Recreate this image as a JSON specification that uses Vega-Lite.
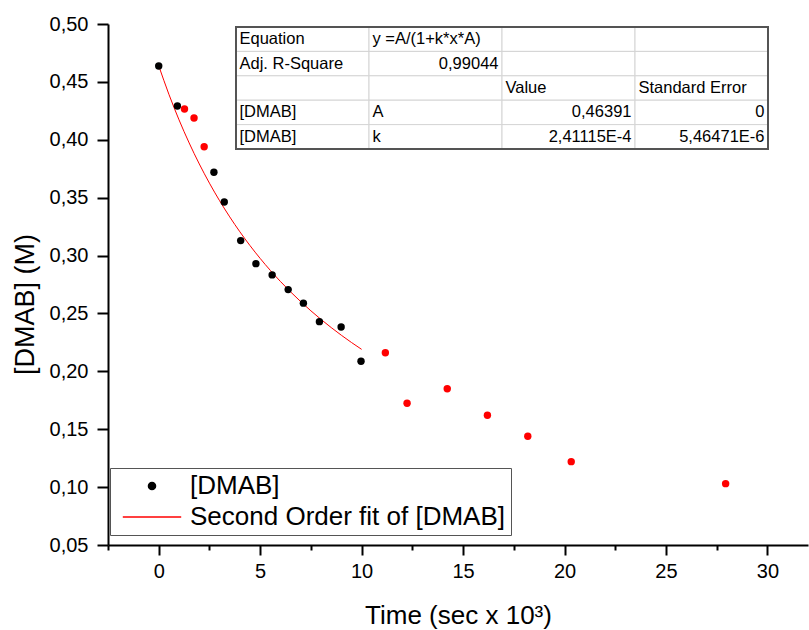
{
  "$schema": "https://vega.github.io/schema/vega-lite/v6.json",
  "width": 700,
  "height": 521,
  "autosize": {"type": "none"},
  "padding": {"left": 108, "top": 24, "right": 1, "bottom": 85},
  "background": "white",
  "config": {"view": {"stroke": null}, "font": "Liberation Sans"},
  "datasets": {
    "obs": [
      {"t": 0, "c": 0.4637, "series": "[DMAB]"},
      {"t": 0.92, "c": 0.4292, "series": "[DMAB]"},
      {"t": 2.72, "c": 0.372, "series": "[DMAB]"},
      {"t": 3.23, "c": 0.3463, "series": "[DMAB]"},
      {"t": 4.04, "c": 0.3129, "series": "[DMAB]"},
      {"t": 4.79, "c": 0.293, "series": "[DMAB]"},
      {"t": 5.59, "c": 0.2833, "series": "[DMAB]"},
      {"t": 6.38, "c": 0.2706, "series": "[DMAB]"},
      {"t": 7.13, "c": 0.2589, "series": "[DMAB]"},
      {"t": 7.92, "c": 0.2429, "series": "[DMAB]"},
      {"t": 8.99, "c": 0.2383, "series": "[DMAB]"},
      {"t": 9.97, "c": 0.2087, "series": "[DMAB]"},
      {"t": 1.27, "c": 0.4266, "series": "[DMAB] (masked)"},
      {"t": 1.74, "c": 0.4188, "series": "[DMAB] (masked)"},
      {"t": 2.24, "c": 0.394, "series": "[DMAB] (masked)"},
      {"t": 11.17, "c": 0.216, "series": "[DMAB] (masked)"},
      {"t": 12.24, "c": 0.1725, "series": "[DMAB] (masked)"},
      {"t": 14.22, "c": 0.185, "series": "[DMAB] (masked)"},
      {"t": 16.2, "c": 0.162, "series": "[DMAB] (masked)"},
      {"t": 18.19, "c": 0.144, "series": "[DMAB] (masked)"},
      {"t": 20.33, "c": 0.122, "series": "[DMAB] (masked)"},
      {"t": 27.94, "c": 0.103, "series": "[DMAB] (masked)"}
    ],
    "fit": [
      {"t": 0, "c": 0.46391, "series": "Second Order fit of [DMAB]"},
      {"t": 0.5, "c": 0.43934, "series": "Second Order fit of [DMAB]"},
      {"t": 1, "c": 0.41724, "series": "Second Order fit of [DMAB]"},
      {"t": 1.5, "c": 0.39726, "series": "Second Order fit of [DMAB]"},
      {"t": 2, "c": 0.3791, "series": "Second Order fit of [DMAB]"},
      {"t": 2.5, "c": 0.36253, "series": "Second Order fit of [DMAB]"},
      {"t": 3, "c": 0.34735, "series": "Second Order fit of [DMAB]"},
      {"t": 3.5, "c": 0.33339, "series": "Second Order fit of [DMAB]"},
      {"t": 4, "c": 0.32051, "series": "Second Order fit of [DMAB]"},
      {"t": 4.5, "c": 0.30858, "series": "Second Order fit of [DMAB]"},
      {"t": 5, "c": 0.29752, "series": "Second Order fit of [DMAB]"},
      {"t": 5.5, "c": 0.28721, "series": "Second Order fit of [DMAB]"},
      {"t": 6, "c": 0.2776, "series": "Second Order fit of [DMAB]"},
      {"t": 6.5, "c": 0.26861, "series": "Second Order fit of [DMAB]"},
      {"t": 7, "c": 0.26019, "series": "Second Order fit of [DMAB]"},
      {"t": 7.5, "c": 0.25227, "series": "Second Order fit of [DMAB]"},
      {"t": 8, "c": 0.24483, "series": "Second Order fit of [DMAB]"},
      {"t": 8.5, "c": 0.23781, "series": "Second Order fit of [DMAB]"},
      {"t": 9, "c": 0.23118, "series": "Second Order fit of [DMAB]"},
      {"t": 9.5, "c": 0.22491, "series": "Second Order fit of [DMAB]"},
      {"t": 10, "c": 0.21898, "series": "Second Order fit of [DMAB]"}
    ],
    "table": [
      {"row": 0, "col": 0, "text": "Equation", "kind": "label"},
      {"row": 0, "col": 1, "text": "y =A/(1+k*x*A)", "kind": "label"},
      {"row": 0, "col": 2, "text": "", "kind": "label"},
      {"row": 0, "col": 3, "text": "", "kind": "label"},
      {"row": 1, "col": 0, "text": "Adj. R-Square", "kind": "label"},
      {"row": 1, "col": 1, "text": "0,99044", "kind": "value"},
      {"row": 1, "col": 2, "text": "", "kind": "label"},
      {"row": 1, "col": 3, "text": "", "kind": "label"},
      {"row": 2, "col": 0, "text": "", "kind": "label"},
      {"row": 2, "col": 1, "text": "", "kind": "label"},
      {"row": 2, "col": 2, "text": "Value", "kind": "label"},
      {"row": 2, "col": 3, "text": "Standard Error", "kind": "label"},
      {"row": 3, "col": 0, "text": "[DMAB]", "kind": "label"},
      {"row": 3, "col": 1, "text": "A", "kind": "label"},
      {"row": 3, "col": 2, "text": "0,46391", "kind": "value"},
      {"row": 3, "col": 3, "text": "0", "kind": "value"},
      {"row": 4, "col": 0, "text": "[DMAB]", "kind": "label"},
      {"row": 4, "col": 1, "text": "k", "kind": "label"},
      {"row": 4, "col": 2, "text": "2,41115E-4", "kind": "value"},
      {"row": 4, "col": 3, "text": "5,46471E-6", "kind": "value"}
    ]
  },
  "resolve": {"scale": {"x": "independent", "y": "independent"}},
  "layer": [
    {
      "layer": [
        {
          "data": {"name": "fit"},
          "mark": {"type": "line", "strokeWidth": 1, "interpolate": "monotone"},
          "encoding": {
            "x": {"field": "t", "type": "quantitative"},
            "y": {"field": "c", "type": "quantitative"},
            "color": {"field": "series", "type": "nominal"}
          }
        },
        {
          "data": {"name": "obs"},
          "mark": {"type": "point", "filled": true, "opacity": 1, "size": 55},
          "encoding": {
            "x": {
              "field": "t",
              "type": "quantitative",
              "scale": {"domain": [-2.5, 32], "nice": false, "zero": false},
              "axis": {
                "title": "Time (sec x 10³)",
                "titleFont": "Liberation Sans",
                "titleFontSize": 26,
                "titleFontWeight": "normal",
                "titleColor": "black",
                "titlePadding": 21,
                "values": [-2.5, 0, 2.5, 5, 7.5, 10, 12.5, 15, 17.5, 20, 22.5, 25, 27.5, 30],
                "labelExpr": "datum.value % 5 === 0 ? datum.value : ''",
                "labelFont": "Liberation Sans",
                "labelFontSize": 20,
                "labelColor": "black",
                "labelPadding": 6,
                "labelFlush": false,
                "labelOverlap": false,
                "domainColor": "black",
                "domainWidth": 2,
                "tickColor": "black",
                "tickWidth": 2,
                "tickSize": {"condition": {"test": "datum.value % 5 === 0", "value": 10}, "value": 5},
                "grid": false
              }
            },
            "y": {
              "field": "c",
              "type": "quantitative",
              "scale": {"domain": [0.05, 0.5], "nice": false, "zero": false},
              "axis": {
                "title": "[DMAB] (M)",
                "titleFont": "Liberation Sans",
                "titleFontSize": 27,
                "titleFontWeight": "normal",
                "titleColor": "black",
                "titlePadding": 10,
                "titleY": 280,
                "values": [0.05, 0.075, 0.1, 0.125, 0.15, 0.175, 0.2, 0.225, 0.25, 0.275, 0.3, 0.325, 0.35, 0.375, 0.4, 0.425, 0.45, 0.475, 0.5],
                "labelExpr": "abs(datum.value * 20 - round(datum.value * 20)) < 0.001 ? replace(format(datum.value, '.2f'), '.', ',') : ''",
                "labelFont": "Liberation Sans",
                "labelFontSize": 20,
                "labelColor": "black",
                "labelPadding": 9,
                "labelFlush": false,
                "labelOverlap": false,
                "domainColor": "black",
                "domainWidth": 2,
                "tickColor": "black",
                "tickWidth": 2,
                "tickSize": {"condition": {"test": "abs(datum.value * 20 - round(datum.value * 20)) < 0.001", "value": 11}, "value": 5},
                "grid": false
              }
            },
            "color": {
              "field": "series",
              "type": "nominal",
              "scale": {"domain": ["[DMAB]", "Second Order fit of [DMAB]", "[DMAB] (masked)"], "range": ["black", "red", "red"]},
              "legend": {
                "orient": "none",
                "legendX": 2,
                "legendY": 444,
                "title": null,
                "values": ["[DMAB]", "Second Order fit of [DMAB]"],
                "labelFont": "Liberation Sans",
                "labelFontSize": 26,
                "labelColor": "black",
                "labelLimit": 500,
                "strokeColor": "#555555",
                "fillColor": "white",
                "padding": 5,
                "rowPadding": 5,
                "symbolSize": 64,
                "symbolType": "circle",
                "symbolOffset": 24,
                "labelOffset": 25,
                "encoding": {
                  "symbols": {
                    "shape": {"value": {"expr": "datum.value === '[DMAB]' ? 'circle' : 'M-7.3,0L7.3,0'"}},
                    "size": {"value": {"expr": "datum.value === '[DMAB]' ? 50 : 64"}},
                    "fill": {"value": {"expr": "datum.value === '[DMAB]' ? 'black' : 'transparent'"}},
                    "stroke": {"value": {"expr": "datum.value === '[DMAB]' ? 'transparent' : '#ff6060'"}},
                    "strokeWidth": {"value": 1.5},
                    "opacity": {"value": 1}
                  }
                }
              }
            }
          }
        }
      ]
    },
    {
      "data": {"name": "table"},
      "layer": [
        {
          "mark": {"type": "rect", "fill": "white", "stroke": "#d4d4d4", "strokeWidth": 1, "xOffset": -66.5, "x2Offset": 66.5, "yOffset": -12.2, "y2Offset": 12.2},
          "encoding": {
            "x": {"field": "col", "type": "quantitative", "scale": {"domain": [-0.5, 3.5], "range": [128, 660]}, "axis": null},
            "x2": {"field": "col"},
            "y": {"field": "row", "type": "quantitative", "scale": {"domain": [-0.5, 4.5], "range": [3, 125]}, "axis": null},
            "y2": {"field": "row"}
          }
        },
        {
          "mark": {"type": "rect", "fill": null, "stroke": "#555555", "strokeWidth": 1.2},
          "encoding": {
            "x": {"datum": -0.5, "type": "quantitative"},
            "x2": {"datum": 3.5},
            "y": {"datum": -0.5, "type": "quantitative"},
            "y2": {"datum": 4.5}
          }
        },
        {
          "transform": [{"filter": "datum.kind === 'label'"}],
          "mark": {"type": "text", "align": "left", "baseline": "middle", "dx": -63, "font": "Liberation Sans", "fontSize": 16.5, "color": "black"},
          "encoding": {
            "x": {"field": "col", "type": "quantitative"},
            "y": {"field": "row", "type": "quantitative"},
            "text": {"field": "text"}
          }
        },
        {
          "transform": [{"filter": "datum.kind === 'value'"}],
          "mark": {"type": "text", "align": "right", "baseline": "middle", "dx": 63, "font": "Liberation Sans", "fontSize": 16.5, "color": "black"},
          "encoding": {
            "x": {"field": "col", "type": "quantitative"},
            "y": {"field": "row", "type": "quantitative"},
            "text": {"field": "text"}
          }
        }
      ]
    }
  ]
}
